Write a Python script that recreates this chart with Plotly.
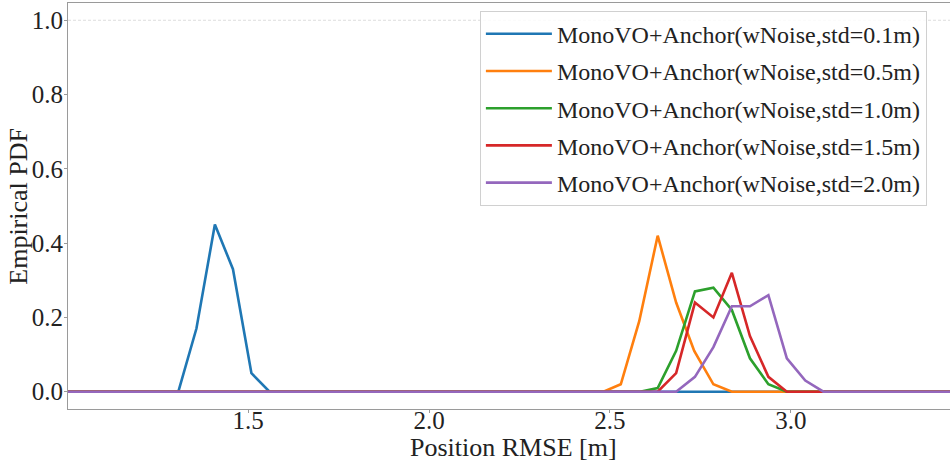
import plotly.graph_objects as go

# ---- data ----
labels = [
    "MonoVO+Anchor(wNoise,std=0.1m)",
    "MonoVO+Anchor(wNoise,std=0.5m)",
    "MonoVO+Anchor(wNoise,std=1.0m)",
    "MonoVO+Anchor(wNoise,std=1.5m)",
    "MonoVO+Anchor(wNoise,std=2.0m)",
]
colors = ["#1f77b4", "#ff7f0e", "#2ca02c", "#d62728", "#9467bd"]

x_std01 = [0.95, 1.307, 1.357, 1.408, 1.458, 1.509, 1.559, 3.55]
y_std01 = [0.0, 0.0, 0.17, 0.45, 0.33, 0.05, 0.0, 0.0]

x_std05 = [0.95, 2.482, 2.530, 2.581, 2.632, 2.683, 2.733, 2.786, 2.837, 3.55]
y_std05 = [0.0, 0.0, 0.02, 0.19, 0.42, 0.24, 0.11, 0.02, 0.0, 0.0]

x_std10 = [0.95, 2.583, 2.632, 2.683, 2.735, 2.786, 2.837, 2.887, 2.938, 2.989, 3.55]
y_std10 = [0.0, 0.0, 0.01, 0.11, 0.27, 0.28, 0.22, 0.09, 0.02, 0.0, 0.0]

x_std15 = [0.95, 2.632, 2.683, 2.735, 2.786, 2.837, 2.887, 2.938, 2.989, 3.55]
y_std15 = [0.0, 0.0, 0.05, 0.24, 0.20, 0.32, 0.15, 0.04, 0.0, 0.0]

x_std20 = [0.95, 2.683, 2.735, 2.786, 2.837, 2.887, 2.938, 2.989, 3.040, 3.090, 3.55]
y_std20 = [0.0, 0.0, 0.04, 0.12, 0.23, 0.23, 0.26, 0.09, 0.03, 0.0, 0.0]

x_ticks = [1.5, 2.0, 2.5, 3.0]
y_ticks = [0.0, 0.2, 0.4, 0.6, 0.8, 1.0]

x_title = "Position RMSE [m]"
y_title = "Empirical PDF"

series = [
    (x_std01, y_std01),
    (x_std05, y_std05),
    (x_std10, y_std10),
    (x_std15, y_std15),
    (x_std20, y_std20),
]

FONT = "Liberation Serif"
TXT = "#222222"

fig = go.Figure()
for i, ((xs, ys), name, col) in enumerate(zip(series, labels, colors)):
    fig.add_trace(go.Scatter(
        x=xs, y=ys, mode="lines", name=name,
        line=dict(color=col, width=2.6),
        legendgroup=f"g{i}",
    ))

fig.add_shape(type="line", xref="paper", x0=0, x1=1, yref="y", y0=1.0, y1=1.0,
              line=dict(color="#dddddd", width=1, dash="3px,2px"), layer="below")

fig.add_annotation(text=x_title, xref="paper", yref="paper", x=0.505, y=-0.094,
                   xanchor="center", yanchor="middle", showarrow=False,
                   font=dict(family=FONT, size=26, color=TXT))
fig.add_annotation(text=y_title, xref="paper", yref="paper", x=-0.057, y=0.5,
                   xanchor="center", yanchor="middle", showarrow=False, textangle=-90,
                   font=dict(family=FONT, size=26, color=TXT))

fig.update_layout(
    width=950, height=466,
    margin=dict(l=68, r=0, t=3, b=57, autoexpand=False),
    plot_bgcolor="white", paper_bgcolor="white",
    font=dict(family=FONT, size=24, color=TXT),
    showlegend=True,
    legend=dict(
        x=0.467, y=0.981, xanchor="left", yanchor="top",
        bgcolor="rgba(255,255,255,0.85)", bordercolor="#d0d0d0", borderwidth=1,
        font=dict(family=FONT, size=24, color=TXT),
        tracegroupgap=3, traceorder="grouped", itemwidth=66,
    ),
    xaxis=dict(
        range=[1.002, 3.44], tickvals=x_ticks, ticktext=[f"{v:.1f}" for v in x_ticks],
        showgrid=False, zeroline=False, automargin=False,
        showline=True, linecolor="#9a9a9a", linewidth=1, mirror=True,
        ticks="outside", ticklen=3, tickcolor="#9a9a9a",
        ticklabelstandoff=-14,
        tickfont=dict(family=FONT, size=25, color=TXT),
    ),
    yaxis=dict(
        range=[-0.0465, 1.0465], tickvals=y_ticks, ticktext=[f"{v:.1f}" for v in y_ticks],
        showgrid=False, zeroline=False, automargin=False,
        showline=True, linecolor="#9a9a9a", linewidth=1, mirror=False,
        ticks="outside", ticklen=3, tickcolor="#9a9a9a",
        ticklabelstandoff=-4,
        tickfont=dict(family=FONT, size=25, color=TXT),
    ),
)

fig.write_html("out.html")
